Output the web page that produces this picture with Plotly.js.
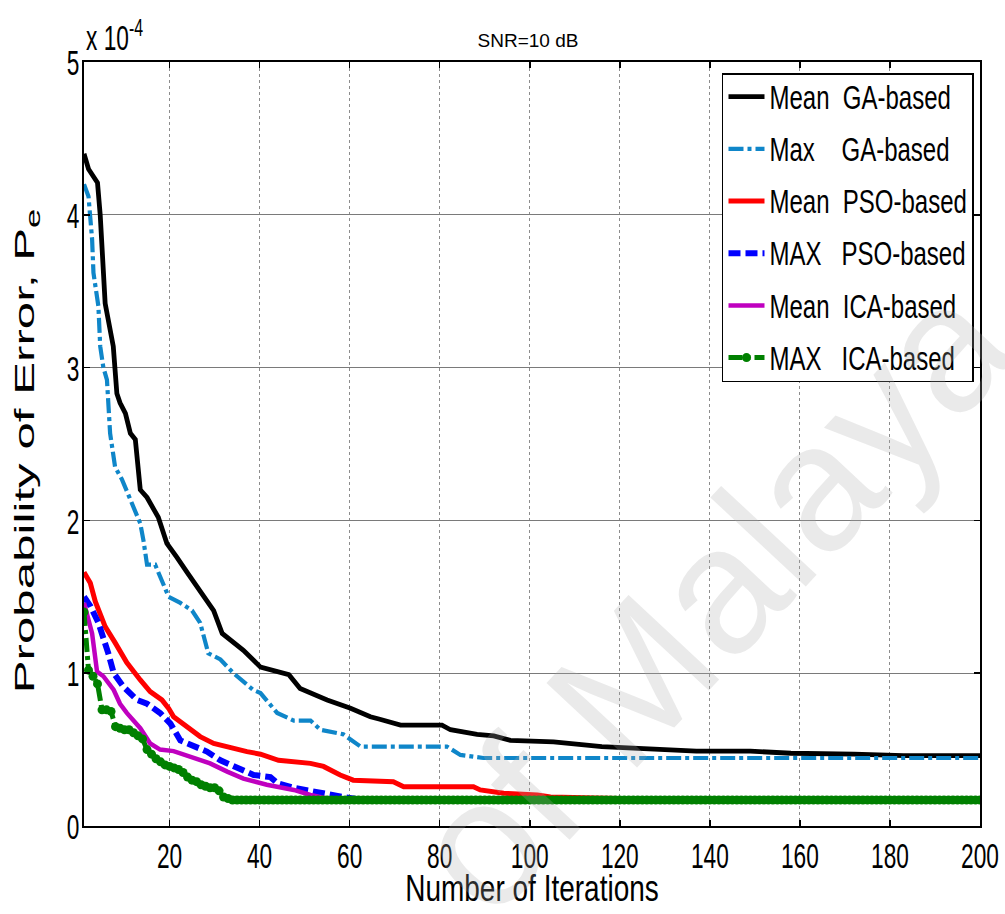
<!DOCTYPE html>
<html><head><meta charset="utf-8">
<script src="https://cdn.plot.ly/plotly-3.0.1.min.js"></script>
<style>html,body{margin:0;padding:0;background:#fff}</style>
</head><body>
<div id="chart" style="width:1005px;height:914px"></div>
<script>
// ---- data (values in units of 1e-4) ----
const xTicks = [20, 40, 60, 80, 100, 120, 140, 160, 180, 200];
const yTicks = [0, 1, 2, 3, 4, 5];
const yTickText = ["0", "1", "2", "3", "4", "5"];

const seriesNames = [
  "Mean\u00a0\u00a0GA-based",
  "Max\u00a0\u00a0\u00a0\u00a0GA-based",
  "Mean\u00a0\u00a0PSO-based",
  "MAX\u00a0\u00a0\u00a0PSO-based",
  "Mean\u00a0\u00a0ICA-based",
  "MAX\u00a0\u00a0\u00a0ICA-based"
];

const meanGA_x = [1, 2, 4, 4.6, 5.7, 7.5, 8.3, 9, 10.2, 11.3, 12.4, 13.5, 15, 16.1, 17.5, 19.4, 20.5, 21.6, 23.9, 27.5, 29.8, 31.7, 33.5, 36.4, 40.2, 44.6, 46.5, 49, 53.5, 55, 60.2, 64.6, 66.5, 71.3, 80.5, 82.4, 88.3, 92, 95.7, 101.6, 105.3, 116, 128, 137, 149, 158, 172, 183, 200];
const meanGA_y = [4.40, 4.30, 4.21, 4.0, 3.42, 3.14, 2.83, 2.77, 2.70, 2.57, 2.53, 2.20, 2.15, 2.09, 2.02, 1.85, 1.80, 1.76, 1.66, 1.50, 1.41, 1.26, 1.22, 1.15, 1.04, 1.00, 0.99, 0.90, 0.84, 0.825, 0.77, 0.715, 0.70, 0.66, 0.66, 0.63, 0.60, 0.59, 0.56, 0.55, 0.55, 0.52, 0.50, 0.49, 0.49, 0.476, 0.47, 0.46, 0.46];

const maxGA_x = [1, 2, 2.8, 3.1, 4.2, 4.6, 5.3, 6.1, 6.8, 7.9, 9.4, 11.3, 13.5, 14.2, 15, 16.8, 17.9, 19.8, 22.4, 25, 26.8, 28.6, 31.3, 34.2, 38.6, 40.2, 43.9, 47.6, 51.3, 53.5, 58.6, 61.6, 62.4, 81.6, 84.6, 89.7, 200];
const maxGA_y = [4.20, 4.12, 3.84, 3.62, 3.40, 3.14, 3.00, 2.92, 2.57, 2.35, 2.27, 2.13, 1.98, 1.87, 1.71, 1.71, 1.63, 1.50, 1.46, 1.41, 1.33, 1.13, 1.09, 1.00, 0.89, 0.87, 0.74, 0.69, 0.69, 0.63, 0.60, 0.53, 0.52, 0.52, 0.465, 0.445, 0.445];

const meanPSO_x = [1, 2.4, 3.5, 5.7, 7.9, 10.5, 13.5, 15.7, 18.3, 19.8, 20.9, 23.9, 26.8, 29.8, 33.5, 37.2, 40.2, 44.2, 51.3, 54.2, 57.9, 60.8, 69.7, 72, 87.5, 89, 94.2, 101.7, 104.6, 120, 200];
const meanPSO_y = [1.66, 1.59, 1.47, 1.305, 1.20, 1.07, 0.956, 0.88, 0.825, 0.77, 0.715, 0.65, 0.585, 0.54, 0.51, 0.487, 0.47, 0.43, 0.41, 0.39, 0.334, 0.30, 0.29, 0.257, 0.257, 0.236, 0.214, 0.203, 0.19, 0.18, 0.175];

const maxPSO_x = [1, 2.4, 4.2, 5.3, 6.4, 7.6, 9.8, 12.8, 15, 17.9, 20.2, 22.4, 25.3, 28.3, 31.3, 34.2, 38.7, 42.4, 44, 47.5, 53.5, 58.6, 62, 200];
const maxPSO_y = [1.50, 1.44, 1.33, 1.24, 1.13, 1.00, 0.91, 0.825, 0.80, 0.74, 0.67, 0.56, 0.52, 0.487, 0.43, 0.39, 0.334, 0.32, 0.28, 0.25, 0.214, 0.19, 0.175, 0.175];

const meanICA_x = [1, 2.8, 3.9, 5.3, 7.6, 9, 10.5, 13.5, 15.7, 17.9, 20.9, 25.3, 29, 32.8, 36.4, 41.6, 47.6, 51.3, 55, 200];
const meanICA_y = [1.46, 1.26, 1.01, 0.98, 0.89, 0.80, 0.74, 0.64, 0.54, 0.50, 0.49, 0.443, 0.41, 0.356, 0.31, 0.27, 0.236, 0.203, 0.18, 0.175];

// MAX ICA: one value per iteration 1..200
const maxICA_y = [1.40, 1.02, 0.98, 0.93, 0.76, 0.76, 0.75, 0.65, 0.64, 0.63,
  0.63, 0.61, 0.59, 0.57, 0.50, 0.47, 0.44, 0.42, 0.40, 0.39,
  0.38, 0.37, 0.35, 0.32, 0.30, 0.29, 0.27, 0.26, 0.25, 0.25,
  0.23, 0.19, 0.18, 0.17, 0.17, 0.17, 0.17, 0.17, 0.17, 0.17,
  0.17, 0.17, 0.17, 0.17, 0.17, 0.17, 0.17, 0.17, 0.17, 0.17,
  0.17, 0.17, 0.17, 0.17, 0.17, 0.17, 0.17, 0.17, 0.17, 0.17,
  0.17, 0.17, 0.17, 0.17, 0.17, 0.17, 0.17, 0.17, 0.17, 0.17,
  0.17, 0.17, 0.17, 0.17, 0.17, 0.17, 0.17, 0.17, 0.17, 0.17,
  0.17, 0.17, 0.17, 0.17, 0.17, 0.17, 0.17, 0.17, 0.17, 0.17,
  0.17, 0.17, 0.17, 0.17, 0.17, 0.17, 0.17, 0.17, 0.17, 0.17,
  0.17, 0.17, 0.17, 0.17, 0.17, 0.17, 0.17, 0.17, 0.17, 0.17,
  0.17, 0.17, 0.17, 0.17, 0.17, 0.17, 0.17, 0.17, 0.17, 0.17,
  0.17, 0.17, 0.17, 0.17, 0.17, 0.17, 0.17, 0.17, 0.17, 0.17,
  0.17, 0.17, 0.17, 0.17, 0.17, 0.17, 0.17, 0.17, 0.17, 0.17,
  0.17, 0.17, 0.17, 0.17, 0.17, 0.17, 0.17, 0.17, 0.17, 0.17,
  0.17, 0.17, 0.17, 0.17, 0.17, 0.17, 0.17, 0.17, 0.17, 0.17,
  0.17, 0.17, 0.17, 0.17, 0.17, 0.17, 0.17, 0.17, 0.17, 0.17,
  0.17, 0.17, 0.17, 0.17, 0.17, 0.17, 0.17, 0.17, 0.17, 0.17,
  0.17, 0.17, 0.17, 0.17, 0.17, 0.17, 0.17, 0.17, 0.17, 0.17,
  0.17, 0.17, 0.17, 0.17, 0.17, 0.17, 0.17, 0.17, 0.17, 0.17];

// ---- styling ----
const ARIAL = '"Liberation Sans", Arial, sans-serif';

function tr(x, y, name, color, width, dash, group) {
  return {x: x, y: y, name: name, type: 'scatter', mode: 'lines',
    line: {color: color, width: width, dash: dash}, legendgroup: group, showlegend: true};
}

const traces = [
  tr(meanGA_x, meanGA_y, seriesNames[0], '#000000', 4.8, 'solid', 'g1'),
  tr(maxGA_x, maxGA_y, seriesNames[1], '#0f86c9', 4.2, '15px,4px,4px,4px', 'g2'),
  tr(meanPSO_x, meanPSO_y, seriesNames[2], '#ff0000', 5, 'solid', 'g3'),
  tr(maxPSO_x, maxPSO_y, seriesNames[3], '#0000ff', 6, '12px,5px', 'g4'),
  tr(meanICA_x, meanICA_y, seriesNames[4], '#bf00bf', 4.5, 'solid', 'g5'),
  {y: maxICA_y, x0: 1, dx: 1, name: seriesNames[5], type: 'scatter', mode: 'lines+markers',
   line: {color: '#008000', width: 5, dash: '14px,4px,4px,4px'},
   marker: {color: '#008000', size: 9, symbol: 'circle'}, legendgroup: 'g6'}
];

const layout = {
  width: 1005, height: 914,
  margin: {l: 84, r: 25, t: 62, b: 88},
  paper_bgcolor: '#ffffff', plot_bgcolor: '#ffffff',
  showlegend: true,
  title: {text: 'SNR=10 dB', font: {family: ARIAL, size: 19, color: '#000'},
    x: 0.4955, xref: 'paper', xanchor: 'center', y: 0.956, yref: 'container', yanchor: 'middle'},
  xaxis: {range: [1, 200], tickvals: xTicks, ticktext: xTicks.map(String),
    showgrid: true, gridcolor: '#8c8c8c', gridwidth: 1, griddash: 'dot',
    showline: true, linecolor: '#000', linewidth: 2, mirror: 'ticks',
    ticks: 'inside', ticklen: 6, tickcolor: '#000', tickwidth: 1.5,
    ticklabelstandoff: 2, ticklabeloverflow: 'allow',
    tickfont: {family: ARIAL, size: 28, color: '#000'},
    zeroline: false, automargin: false,
    title: {text: 'Number of Iterations', font: {family: ARIAL, size: 28, color: '#000'}, standoff: 10}},
  yaxis: {range: [0, 5], tickvals: yTicks, ticktext: yTickText,
    showgrid: true, gridcolor: '#7a7a7a', gridwidth: 1,
    showline: true, linecolor: '#000', linewidth: 2, mirror: 'ticks',
    ticks: 'inside', ticklen: 6, tickcolor: '#000', tickwidth: 1.5,
    tickfont: {family: ARIAL, size: 28, color: '#000'},
    zeroline: false, automargin: false,
    title: {text: 'Probability of Error, P<sub>e</sub>', font: {family: ARIAL, size: 28, color: '#000'}}},
  legend: {x: 0.9933, xanchor: 'right', y: 0.9856, yanchor: 'top',
    bgcolor: '#ffffff', bordercolor: '#000', borderwidth: 1.5,
    font: {family: ARIAL, size: 24, color: '#000'},
    tracegroupgap: 18, itemwidth: 36, traceorder: 'grouped'},
  annotations: [
    {text: 'x 10<sup>-4</sup>', xref: 'paper', yref: 'paper', x: 0, y: 1, xanchor: 'left', yanchor: 'bottom',
     showarrow: false, font: {family: ARIAL, size: 28, color: '#000'}, yshift: 2},
    {text: 'of Malaya', xref: 'paper', yref: 'paper', x: 0.70, y: 0.30, xanchor: 'center', yanchor: 'middle',
     showarrow: false, textangle: -47, font: {family: ARIAL, size: 180, color: 'rgba(170,170,170,0.25)'}}
  ]
};

function stretch(el, sx, sy, ax, ay, dx, dy) {
  const b = el.getBBox();
  const px = b.x + ax * b.width, py = b.y + ay * b.height;
  const prev = el.getAttribute('transform') || '';
  el.setAttribute('transform', prev + ' translate(' + (px + (dx || 0)) + ',' + (py + (dy || 0)) + ') scale(' + sx + ',' + sy + ') translate(' + (-px) + ',' + (-py) + ')');
}

Plotly.newPlot('chart', traces, layout, {displayModeBar: false, staticPlot: true}).then(function () {
  document.querySelectorAll('.xtick text').forEach(function (el) { stretch(el, 0.81, 1.25, 0.5, 0.3, 0, 0); });
  document.querySelectorAll('.ytick text').forEach(function (el) { stretch(el, 0.81, 1.25, 1, 0.5, 3, 1); });
  document.querySelectorAll('.legendtext').forEach(function (el) { stretch(el, 1, 1.4, 0, 0.55, 0, 0); });
  const xt = document.querySelector('.xtitle');
  if (xt) stretch(xt, 1.0, 1.3, 0.5, 0.5, 0, 0);
  const ann = document.querySelectorAll('.annotation-text');
  if (ann.length) stretch(ann[0], 0.81, 1.25, 0, 1, 0, 0);
  const t = document.querySelector('.ytitle');
  if (t) {
    const cx = 26, cy = 451;
    t.setAttribute('x', cx);
    t.setAttribute('y', cy);
    t.setAttribute('transform', 'rotate(-90,' + cx + ',' + cy + ') translate(' + cx + ',' + cy + ') scale(1.76,1) translate(' + (-cx) + ',' + (-cy) + ')');
  }
});
</script>
</body></html>
